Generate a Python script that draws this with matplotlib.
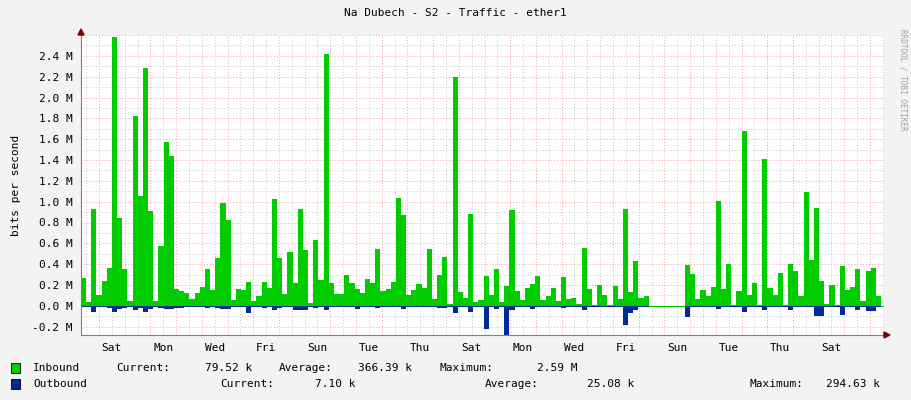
import numpy as np
import matplotlib
matplotlib.use("Agg")
import matplotlib.pyplot as plt

# Inbound traffic (M bits/s), one value per step; None = no data
inbound = [0.27,0.04,0.93,0.10,0.24,0.36,2.58,0.84,0.35,0.05,1.82,1.05,2.28,0.91,0.05,0.57,1.57,1.44,0.16,0.14,
           0.12,0.07,0.12,0.18,0.35,0.15,0.46,0.99,0.82,0.06,0.16,0.15,0.23,0.05,0.09,0.23,0.17,1.03,0.46,0.11,
           0.52,0.22,0.93,0.54,0.03,0.63,0.25,2.42,0.22,0.11,0.11,0.30,
           0.22,0.16,0.12,0.26,0.22,0.55,0.14,0.16,0.23,1.04,0.87,0.10,0.15,0.21,0.17,0.55,0.07,0.30,0.47,0.02,
           2.20,0.13,0.08,0.88,0.04,0.06,0.29,0.10,0.35,0.04,0.19,0.92,0.14,0.06,0.17,0.21,0.29,0.06,0.09,0.17,
           0.05,0.28,0.07,0.08,0.02,0.56,0.16,0.01,0.20,0.10,0.01,0.19,
           0.07,0.93,0.13,0.43,0.08,0.09,0.13,None,None,None,None,None,None,
           0.39,0.31,0.07,0.15,0.09,0.18,1.01,0.16,0.40,0.01,0.14,1.68,0.10,0.22,0.01,1.41,0.17,0.10,0.32,0.01,
           0.40,0.33,0.09,1.09,0.44,0.94,0.24,0.02,0.20,0.01,0.38,0.15,0.18,0.35,0.05,0.33,0.36,0.09]
# Outbound traffic (M bits/s)
outbound = [0.015,0.015,0.06,0.015,0.015,0.02,0.06,0.03,0.02,0.015,0.04,0.02,0.06,0.03,0.015,0.02,0.03,0.03,0.02,0.02,
            0.015,0.015,0.015,0.015,0.02,0.015,0.02,0.03,0.03,0.015,0.015,0.015,0.07,0.015,0.015,0.02,0.015,0.04,0.02,0.015,
            0.015,0.04,0.04,0.04,0.015,0.02,0.015,0.04,0.015,0.015,0.015,0.015,
            0.015,0.03,0.015,0.015,0.015,0.02,0.015,0.015,0.015,0.015,0.03,0.015,0.015,0.015,0.015,0.015,0.015,0.02,0.02,0.015,
            0.07,0.015,0.015,0.06,0.015,0.015,0.22,0.015,0.03,0.015,0.29,0.04,0.015,0.015,0.015,0.03,0.015,0.015,0.015,0.015,
            0.015,0.02,0.015,0.015,0.015,0.04,0.015,0.015,0.015,0.015,0.015,0.015,
            0.015,0.18,0.07,0.04,0.015,0.015,0.015,None,None,None,None,None,None,
            0.11,0.015,0.015,0.015,0.015,0.015,0.03,0.015,0.015,0.015,0.015,0.06,0.015,0.015,0.015,0.04,0.015,0.015,0.015,0.015,
            0.04,0.015,0.015,0.015,0.015,0.10,0.10,0.015,0.015,0.015,0.09,0.015,0.015,0.04,0.015,0.05,0.05,0.015]
day_labels = ["Sat","Mon","Wed","Fri","Sun","Tue","Thu","Sat","Mon","Wed","Fri","Sun","Tue","Thu","Sat"]
yticks = [-0.2,0.0,0.2,0.4,0.6,0.8,1.0,1.2,1.4,1.6,1.8,2.0,2.2,2.4]

W, H = 911, 400
FS = 8
fig = plt.figure(figsize=(W/100, H/100), dpi=100, facecolor="#F3F3F3")
ax = fig.add_axes([81/W, 1-335/H, 803/W, 300/H])
ax.set_facecolor("white")

day_px = 25.7
n = len(inbound)
step = 800/n/day_px
x = np.arange(n+1)*step
inb = np.array([np.nan if v is None else v for v in inbound] + [np.nan])
inb[-1] = inb[-2]
outb = np.array([np.nan if v is None else -v for v in outbound] + [np.nan])
outb[-1] = outb[-2]
ax.fill_between(x, 0, inb, step="post", color="#00CC00", linewidth=0, zorder=3)
ax.fill_between(x, 0, outb, step="post", color="#002A97", linewidth=0, zorder=3)
ax.axhline(0, color="#00CC00", lw=0.8, zorder=2)

xmax = 803/day_px
ax.set_xlim(0, xmax)
ax.set_ylim(-0.28, 2.6)
first_mid = 18/day_px
for d in np.arange(first_mid-0.5, xmax, 0.5):
    if abs((d-first_mid) % 1) < 1e-6:
        ax.axvline(d, color="#F4A0A0", lw=0.7, ls=(0,(1,2)), zorder=1)
    else:
        ax.axvline(d, color="#C8C8C8", lw=0.7, ls=(0,(1,2)), zorder=1)
for yv in np.arange(-0.3, 2.61, 0.1):
    if abs(round(yv*10) % 2) == 0:
        ax.axhline(yv, color="#F4A0A0", lw=0.7, ls=(0,(1,2)), zorder=1)
    else:
        ax.axhline(yv, color="#C8C8C8", lw=0.7, ls=(0,(1,2)), zorder=1)

ax.set_xticks([first_mid+0.5+2*i for i in range(len(day_labels))])
ax.set_xticklabels(day_labels)
ax.set_yticks(yticks)
ax.set_yticklabels([("%.1f" % v if v != 0 else "0.0") + " M" for v in yticks])
ax.tick_params(axis="both", length=0, labelsize=FS, colors="#000000", pad=6)
for lbl in ax.get_xticklabels() + ax.get_yticklabels():
    lbl.set_family("DejaVu Sans Mono")
for s in ["top", "right"]:
    ax.spines[s].set_visible(False)
ax.spines["left"].set_color("#808080")
ax.spines["bottom"].set_color("#808080")
ax.spines["left"].set_zorder(5)
ax.spines["bottom"].set_zorder(5)
ax.set_ylabel("bits per second", family="DejaVu Sans Mono", fontsize=FS, labelpad=8)

mono = dict(family="DejaVu Sans Mono", fontsize=FS, color="#000000")
fig.text(455/W, 1-13/H, "Na Dubech - S2 - Traffic - ether1", ha="center", va="center", **mono)
fig.text(903/W, 1-80/H, "RRDTOOL / TOBI OETIKER", rotation=270, ha="center", va="center",
         family="DejaVu Sans Mono", fontsize=5.5, color="#A0A0A0")
fig.patches.append(matplotlib.patches.Polygon([(78/W,1-35/H),(84/W,1-35/H),(81/W,1-29/H)], closed=True,
                   transform=fig.transFigure, color="#800000"))
fig.patches.append(matplotlib.patches.Polygon([(884/W,1-332/H),(884/W,1-338/H),(890/W,1-335/H)], closed=True,
                   transform=fig.transFigure, color="#800000"))

for ypx, col in [(368, "#00CC00"), (384, "#002A97")]:
    fig.patches.append(matplotlib.patches.Rectangle((11/W, 1-(ypx+5)/H), 9/W, 10/H, transform=fig.transFigure,
                       facecolor=col, edgecolor="#000000", lw=0.6))
items1 = [(33,"Inbound"),(116,"Current:"),(205,"79.52 k"),(279,"Average:"),(358,"366.39 k"),(440,"Maximum:"),(537,"2.59 M")]
items2 = [(33,"Outbound"),(220,"Current:"),(315,"7.10 k"),(485,"Average:"),(587,"25.08 k"),(750,"Maximum:"),(826,"294.63 k")]
for xp, t in items1:
    fig.text(xp/W, 1-368/H, t, ha="left", va="center", **mono)
for xp, t in items2:
    fig.text(xp/W, 1-384/H, t, ha="left", va="center", **mono)

fig.savefig("out.png", dpi=100, facecolor=fig.get_facecolor())
